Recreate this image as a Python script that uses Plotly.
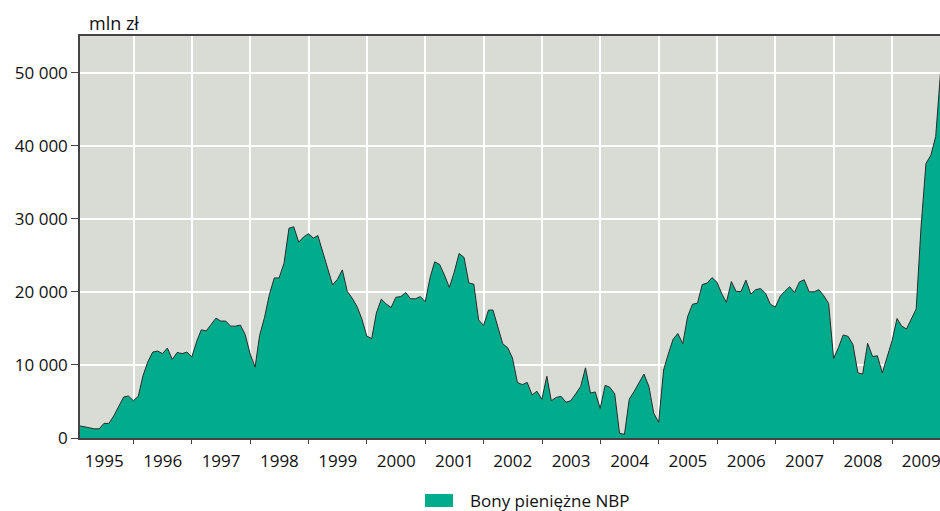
import pandas as pd
import plotly.graph_objects as go

# Monthly values (mln zł), month-end, Jan 1995 - Oct 2009
v1995 = [1650, 1560, 1400, 1250, 1250, 2000, 2000, 3050, 4400, 5600, 5750, 5100]
v1996 = [5700, 8500, 10450, 11750, 11900, 11550, 12300, 10750, 11700, 11550, 11750, 11100]
v1997 = [13250, 14800, 14650, 15500, 16400, 16000, 16000, 15300, 15300, 15450, 14150, 11500]
v1998 = [9700, 14000, 16500, 19600, 21900, 21900, 23900, 28700, 28900, 26800, 27500, 27950]
v1999 = [27350, 27700, 25300, 23200, 20950, 21700, 23000, 20050, 19150, 18000, 16300, 13950]
v2000 = [13600, 17100, 19000, 18350, 17850, 19250, 19350, 19900, 19050, 19050, 19350, 18650]
v2001 = [22000, 24100, 23750, 22300, 20600, 22650, 25250, 24700, 21200, 21050, 16150, 15400]
v2002 = [17500, 17500, 15300, 12900, 12350, 10950, 7600, 7300, 7600, 5900, 6400, 5300]
v2003 = [8450, 5100, 5550, 5700, 4900, 5100, 6050, 7050, 9600, 6150, 6300, 4050]
v2004 = [7200, 6950, 6050, 650, 500, 5300, 6400, 7700, 8750, 7050, 3400, 2150]
v2005 = [9300, 11400, 13500, 14300, 12900, 16600, 18300, 18450, 21000, 21200, 21950, 21300]
v2006 = [19700, 18550, 21400, 20050, 20050, 21600, 19700, 20300, 20450, 19800, 18300, 17900]
v2007 = [19400, 20050, 20700, 19900, 21350, 21650, 20000, 20000, 20300, 19450, 18400, 10900]
v2008 = [12400, 14100, 13900, 12800, 8900, 8750, 12950, 11150, 11250, 8900, 11100, 13300]
v2009 = [16350, 15350, 14900, 16350, 17650, 28750, 37550, 38700, 41250, 50200]

values = (v1995 + v1996 + v1997 + v1998 + v1999 + v2000 + v2001 + v2002 +
          v2003 + v2004 + v2005 + v2006 + v2007 + v2008 + v2009)
dates = pd.date_range("1995-01-31", periods=len(values), freq=pd.offsets.MonthEnd())

years = list(range(1995, 2010))
year_labels = [str(y) for y in years]
y_ticks = [0, 10000, 20000, 30000, 40000, 50000]
y_tick_labels = ["0", "10 000", "20 000", "30 000", "40 000", "50 000"]
series_name = "Bony pieniężne NBP"
unit_label = "mln zł"

FONT = "Open Sans"
FILL = "#00AC8C"
BG = "#D8DCD5"
AX = "#444444"
TXT = "#111111"

W, H = 940, 511
PL, PR, PT, PB = 80, 940, 36, 438          # plot area in pixels
PW, PH = PR - PL, PB - PT

fig = go.Figure()
fig.add_trace(go.Scatter(
    x=dates, y=values, mode="lines", name=series_name,
    line=dict(color="#2a2a2a", width=1),
    fill="tozeroy", fillcolor=FILL, showlegend=False,
    hoverinfo="skip"
))

fig.update_layout(
    width=W, height=H,
    margin=dict(l=PL, r=W - PR, t=PT, b=H - PB, autoexpand=False),
    paper_bgcolor="white", plot_bgcolor=BG,
    font=dict(family=FONT, size=17, color=TXT),
    showlegend=False,
)

fig.update_xaxes(
    type="date",
    range=["1995-01-31", "2009-10-27"],
    tickmode="array",
    tickvals=[f"{y}-07-02" for y in years],
    ticktext=year_labels,
    ticks="outside", ticklen=7, tickcolor="rgba(0,0,0,0)",
    ticklabeloverflow="allow",
    showgrid=False,
    showline=True, linecolor=AX, linewidth=1.5, mirror=True,
    zeroline=False, automargin=False,
    minor=dict(
        tickmode="array",
        tickvals=[f"{y}-01-01" for y in years[1:]],
        ticks="outside", ticklen=4, tickwidth=1.2, tickcolor=AX,
        showgrid=True, gridcolor="white", gridwidth=1.5,
    ),
    tickfont=dict(family=FONT, size=17, color=TXT),
    fixedrange=True,
)

fig.update_yaxes(
    range=[0, 55000],
    tickmode="array", tickvals=y_ticks, ticktext=y_tick_labels,
    ticks="outside", ticklen=7, tickwidth=1.2, tickcolor=AX,
    showgrid=True, gridcolor="white", gridwidth=1.5,
    showline=True, linecolor=AX, linewidth=1.5,
    zeroline=False, automargin=False,
    tickfont=dict(family=FONT, size=17, color=TXT),
    fixedrange=True,
)

# Unit label above the y axis
fig.add_annotation(
    text=unit_label, xref="paper", yref="paper",
    x=(87 - PL) / PW, y=(PB - 22.5) / PH,
    xanchor="left", yanchor="middle", showarrow=False,
    font=dict(family=FONT, size=18, color=TXT),
)

# Legend (swatch + label) below the chart
fig.add_shape(
    type="rect", xref="paper", yref="paper",
    x0=(425 - PL) / PW, x1=(453 - PL) / PW,
    y0=(PB - 507) / PH, y1=(PB - 494) / PH,
    fillcolor=FILL, line=dict(width=0),
)
fig.add_annotation(
    text=series_name, xref="paper", yref="paper",
    x=(468 - PL) / PW, y=(PB - 500.5) / PH,
    xanchor="left", yanchor="middle", showarrow=False,
    font=dict(family=FONT, size=17, color=TXT),
)

# remove the default 8px page margin so the figure fills the window
fig.write_html(
    "out.html",
    config={"displayModeBar": False},
    post_script="document.body.style.margin='0';",
)
